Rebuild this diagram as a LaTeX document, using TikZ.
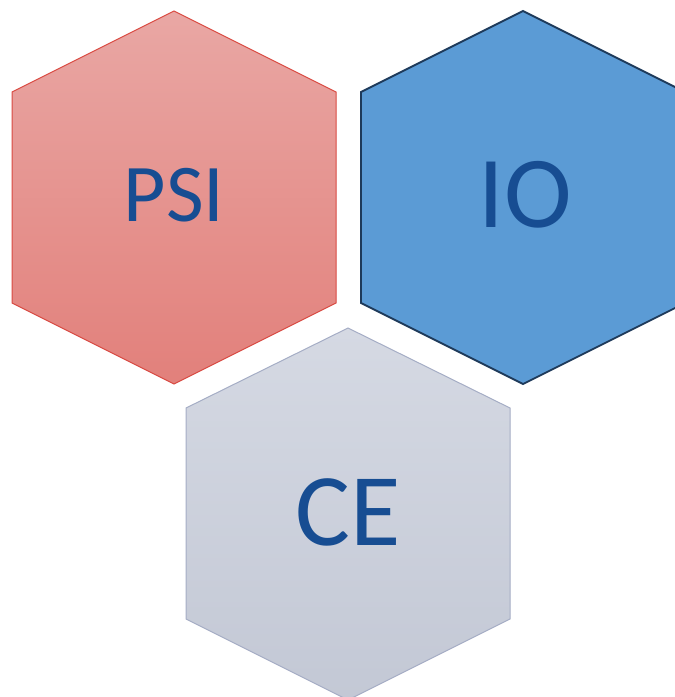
\documentclass[tikz,border=0pt]{standalone}
\usepackage{fontspec}
\setmainfont{Carlito}
\definecolor{psitop}{HTML}{E9A7A4}
\definecolor{psibot}{HTML}{E2807B}
\definecolor{psiline}{HTML}{D94A42}
\definecolor{iofill}{HTML}{5B9BD5}
\definecolor{ioline}{HTML}{1E3A5A}
\definecolor{cetop}{HTML}{D5D9E3}
\definecolor{cebot}{HTML}{C3C8D5}
\definecolor{celine}{HTML}{A5ADC5}
\definecolor{txt}{HTML}{174D92}
\tikzset{
  hexpsi/.style={top color=psitop,bottom color=psibot,draw=psiline,line width=1pt,line join=miter},
  hexio/.style={fill=iofill,draw=ioline,line width=1.8pt,line join=miter},
  hexce/.style={top color=cetop,bottom color=cebot,draw=celine,line width=1pt,line join=miter},
  lbl/.style={text=txt,inner sep=0pt,anchor=center}
}
\begin{document}
\begin{tikzpicture}[x=1pt,y=-1pt]
\useasboundingbox (0,0) rectangle (675,697);
\begin{scope}
\clip (0,0) rectangle (675,697);
% PSI
\draw[hexpsi] (174,11) -- (336,92) -- (336,303) -- (174,384) -- (12,303) -- (12,92) -- cycle;
% IO
\draw[hexio] (523,11) -- (685,92) -- (685,303) -- (523,384) -- (361,303) -- (361,92) -- cycle;
% CE
\draw[hexce] (348,328) -- (510,408) -- (510,619) -- (348,700) -- (186,619) -- (186,408) -- cycle;
\end{scope}
\node[lbl,font=\fontsize{82}{82}\selectfont] (psi) at (174,195) {PSI};
\node[lbl,font=\fontsize{102}{102}\selectfont] (io) at (525,195) {IO};
\node[lbl,font=\fontsize{103}{103}\selectfont] (ce) at (348,512) {CE};
\end{tikzpicture}
\end{document}
